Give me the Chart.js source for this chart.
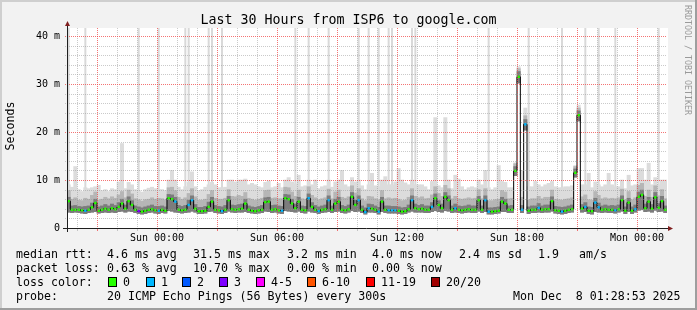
<!DOCTYPE html>
<html>
<head>
<meta charset="utf-8">
<title>Last 30 Hours from ISP6 to google.com</title>
<script src="https://cdn.jsdelivr.net/npm/chart.js@4/dist/chart.umd.min.js"></script>
<style>
  html, body { margin: 0; padding: 0; background: #f2f2f2; }
  canvas { display: block; }
</style>
</head>
<body>
<canvas id="pingGraph" width="697" height="310"></canvas>
<script>
// 10 minute bins, first bin starts Sat 19:30 (x axis is hours counted from Sat 00:00)
const startHour = 19.5;
const binHours = 1 / 6;

// median rtt per bin, in ms
const median = [
    5.6, 3.8, 3.8, 3.8, 3.7, 3.6, 3.8, 4.3, 5.2, 3.6, 3.8, 4.0, 3.8, 4.1, 3.9, 4.4, 5.1, 4.0, 5.6, 4.8,
    3.8, 3.5, 3.4, 3.6, 3.8, 3.9, 3.7, 3.6, 3.8, 3.6, 6.2, 6.0, 5.5, 3.8, 3.7, 3.8, 4.8, 5.8, 4.0, 3.5,
    3.5, 3.6, 4.4, 5.5, 3.8, 3.7, 3.5, 3.8, 5.8, 3.9, 3.8, 3.9, 4.0, 5.1, 3.8, 3.6, 3.5, 3.7, 3.8, 5.4,
    5.5, 3.8, 3.9, 3.7, 3.6, 6.2, 6.0, 5.1, 4.1, 5.5, 3.8, 3.7, 6.2, 4.4, 3.8, 3.5, 3.8, 3.9, 5.8, 3.8,
    5.1, 5.5, 3.8, 3.7, 3.9, 6.5, 4.8, 5.8, 3.8, 3.3, 4.1, 4.0, 3.8, 3.4, 5.5, 3.8, 3.7, 3.7, 3.7, 3.6,
    3.4, 3.5, 3.9, 5.8, 4.1, 3.9, 4.0, 3.8, 3.8, 4.4, 6.2, 4.8, 4.1, 6.5, 5.8, 3.8, 4.1, 3.8, 3.7, 3.8,
    3.9, 3.8, 3.8, 5.8, 3.8, 5.8, 3.4, 3.4, 3.5, 3.6, 5.5, 5.1, 3.8, 3.8, 11.9, 31.5, 3.8, 21.6, 3.6, 3.8,
    3.8, 4.2, 3.8, 3.9, 3.9, 5.6, 3.7, 3.6, 3.4, 3.6, 3.8, 3.9, 11.5, 23.5, 4.0, 4.4, 3.6, 3.5, 5.3, 4.3,
    3.8, 3.9, 3.8, 3.8, 3.7, 3.9, 5.8, 3.6, 5.3, 3.6, 3.9, 6.5, 6.9, 4.1, 5.5, 4.0, 6.4, 4.2, 5.6, 3.8
];

// lost pings (of 20) per bin
const loss = [
    0, 0, 0, 0, 0, 1, 0, 0, 0, 0, 0, 0, 0, 0, 0, 0, 0, 0, 0, 0,
    0, 3, 0, 0, 0, 0, 0, 1, 0, 0, 0, 0, 1, 0, 0, 0, 1, 1, 0, 0,
    0, 0, 0, 0, 0, 0, 1, 0, 0, 0, 0, 0, 0, 0, 0, 0, 0, 0, 0, 0,
    0, 0, 0, 0, 1, 0, 0, 0, 0, 0, 0, 0, 1, 0, 0, 1, 0, 0, 1, 0,
    0, 0, 0, 0, 0, 0, 0, 1, 0, 1, 1, 0, 0, 1, 0, 0, 1, 1, 1, 0,
    0, 0, 0, 1, 0, 0, 0, 0, 0, 1, 0, 0, 0, 0, 0, 0, 1, 0, 0, 0,
    0, 0, 0, 0, 0, 1, 1, 0, 0, 0, 0, 0, 0, 0, 0, 0, 1, 1, 0, 0,
    0, 1, 0, 0, 0, 0, 0, 0, 1, 0, 0, 0, 0, 0, 0, 1, 0, 0, 1, 1,
    0, 0, 0, 0, 1, 0, 0, 0, 0, 0, 1, 0, 0, 0, 0, 0, 0, 0, 0, 0
];

// smoke: fastest ping, 75th and 90th percentile, slowest ping in range
const pingMin = [
    3.3, 3.2, 3.3, 3.2, 3.1, 3.0, 3.2, 3.3, 3.4, 3.1, 3.2, 3.3, 3.2, 3.3, 3.2, 3.4, 3.5, 3.3, 3.5, 3.4,
    3.2, 3.0, 2.9, 3.0, 3.2, 3.3, 3.1, 3.0, 3.2, 3.1, 3.6, 3.5, 3.3, 3.2, 3.1, 3.2, 3.3, 3.5, 3.3, 3.0,
    3.0, 3.1, 3.4, 3.5, 3.2, 3.1, 3.0, 3.2, 3.5, 3.3, 3.2, 3.3, 3.3, 3.4, 3.2, 3.1, 3.0, 3.1, 3.2, 3.5,
    3.4, 3.2, 3.3, 3.1, 3.0, 3.6, 3.5, 3.4, 3.3, 3.5, 3.2, 3.1, 3.5, 3.3, 3.2, 3.0, 3.2, 3.3, 3.4, 3.2,
    3.4, 3.5, 3.2, 3.1, 3.3, 3.6, 3.4, 3.5, 3.2, 2.9, 3.3, 3.3, 3.2, 2.9, 3.4, 3.2, 3.1, 3.1, 3.1, 3.0,
    2.9, 3.0, 3.3, 3.5, 3.3, 3.3, 3.3, 3.2, 3.2, 3.4, 3.6, 3.4, 3.3, 3.6, 3.5, 3.2, 3.3, 3.2, 3.1, 3.2,
    3.3, 3.2, 3.2, 3.5, 3.2, 3.4, 2.9, 2.9, 3.0, 3.1, 3.4, 3.4, 3.2, 3.2, 10.9, 30.2, 3.2, 20.4, 3.0, 3.2,
    3.2, 3.3, 3.2, 3.3, 3.3, 3.5, 3.1, 3.0, 2.9, 3.0, 3.2, 3.3, 10.6, 22.3, 3.3, 3.4, 3.0, 2.9, 3.4, 3.3,
    3.2, 3.3, 3.2, 3.2, 3.1, 3.3, 3.5, 3.0, 3.4, 3.0, 3.3, 3.7, 3.8, 3.4, 3.5, 3.3, 3.7, 3.4, 3.5, 3.2
];
const pingQ3 = [
    6.4, 4.6, 4.7, 4.5, 4.4, 4.5, 4.6, 5.2, 6.0, 4.4, 4.6, 4.9, 4.6, 5.0, 4.7, 5.3, 6.0, 4.8, 6.5, 5.7,
    4.6, 4.4, 4.2, 4.4, 4.6, 4.8, 4.5, 4.5, 4.6, 4.4, 7.0, 6.9, 6.4, 4.7, 4.5, 4.7, 5.8, 6.7, 4.9, 4.3,
    4.3, 4.5, 5.4, 6.4, 4.7, 4.5, 4.4, 4.7, 6.6, 4.8, 4.7, 4.9, 5.0, 6.0, 4.6, 4.4, 4.3, 4.5, 4.7, 6.3,
    6.4, 4.7, 4.8, 4.6, 4.5, 7.0, 6.9, 6.0, 5.0, 6.4, 4.6, 4.5, 7.1, 5.3, 4.7, 4.4, 4.6, 4.8, 6.7, 4.6,
    6.0, 6.4, 4.7, 4.5, 4.8, 7.4, 5.8, 6.7, 4.6, 4.2, 5.0, 4.9, 4.6, 4.3, 6.4, 4.6, 4.6, 4.5, 4.5, 4.4,
    4.2, 4.3, 4.8, 6.7, 5.0, 4.7, 4.9, 4.6, 4.6, 5.3, 7.1, 5.7, 5.0, 7.4, 6.7, 4.6, 5.0, 4.6, 4.5, 4.6,
    4.8, 4.6, 4.6, 6.6, 4.6, 6.7, 4.2, 4.2, 4.3, 4.4, 6.4, 6.0, 4.6, 4.7, 12.8, 32.6, 4.7, 22.6, 4.4, 4.6,
    4.6, 5.1, 4.6, 4.8, 4.8, 6.5, 4.5, 4.4, 4.3, 4.4, 4.6, 4.8, 12.3, 24.4, 4.9, 5.3, 4.4, 4.3, 6.2, 5.2,
    4.6, 4.8, 4.6, 4.7, 4.6, 4.8, 6.7, 4.4, 6.2, 4.4, 4.8, 7.5, 7.9, 5.0, 6.4, 4.9, 7.4, 5.1, 6.6, 4.6
];
const pingP90 = [
    7.8, 6.0, 6.3, 5.8, 5.7, 6.2, 6.0, 6.8, 7.5, 5.8, 6.0, 6.4, 6.1, 6.5, 6.2, 6.9, 7.6, 6.3, 7.9, 7.1,
    6.1, 5.9, 5.6, 5.9, 6.0, 6.3, 6.0, 6.2, 6.1, 5.9, 8.4, 8.5, 7.8, 6.4, 6.0, 6.3, 7.2, 8.2, 6.5, 5.8,
    5.8, 6.0, 7.0, 7.8, 6.2, 6.0, 6.0, 6.2, 8.0, 6.6, 6.5, 6.8, 6.6, 7.4, 6.2, 6.0, 5.8, 6.0, 6.2, 7.8,
    7.9, 6.2, 6.3, 6.1, 6.1, 8.5, 8.4, 7.5, 6.6, 7.9, 6.1, 6.0, 8.6, 6.8, 6.3, 5.9, 6.1, 6.3, 8.1, 6.1,
    7.5, 7.9, 6.4, 6.2, 6.5, 8.8, 7.3, 8.2, 6.1, 5.7, 6.6, 6.5, 6.1, 5.9, 7.8, 6.1, 6.3, 6.1, 6.2, 6.0,
    5.7, 5.8, 6.4, 8.2, 6.6, 6.3, 6.5, 6.1, 6.2, 6.9, 8.6, 7.2, 6.6, 8.9, 8.2, 6.1, 6.6, 6.1, 6.0, 6.1,
    6.3, 6.1, 6.2, 8.0, 6.1, 8.2, 5.7, 5.7, 5.9, 6.0, 7.8, 7.5, 6.1, 6.2, 13.4, 33.2, 6.4, 23.4, 5.9, 6.1,
    6.1, 6.6, 6.1, 6.4, 6.4, 7.9, 6.0, 5.9, 5.8, 6.0, 6.1, 6.3, 12.8, 25.0, 6.5, 6.9, 5.9, 5.8, 7.6, 6.8,
    6.1, 6.3, 6.1, 6.2, 6.1, 6.3, 8.1, 5.9, 7.6, 5.9, 6.3, 8.9, 9.3, 6.6, 7.9, 6.4, 8.8, 6.7, 8.0, 6.1
];
const pingMax = [
    9.0, 8.5, 12.8, 8.0, 7.6, 8.4, 8.2, 8.4, 8.6, 8.9, 7.8, 8.0, 7.6, 8.2, 8.0, 9.6, 17.6, 8.2, 9.5, 9.0,
    8.0, 7.8, 7.5, 8.0, 8.3, 8.5, 8.2, 8.0, 8.0, 7.8, 10.0, 12.0, 10.0, 8.5, 8.0, 8.6, 9.5, 11.7, 8.6, 7.8,
    8.0, 8.5, 9.0, 9.5, 9.0, 8.4, 8.4, 8.5, 10.0, 10.0, 9.6, 10.0, 10.0, 10.2, 9.0, 9.3, 9.0, 8.6, 8.4, 9.5,
    9.8, 8.4, 8.6, 9.3, 8.4, 10.0, 10.5, 9.6, 9.2, 11.0, 8.6, 8.8, 10.0, 9.0, 10.0, 8.2, 8.6, 8.8, 10.0, 8.5,
    9.6, 10.0, 12.0, 9.0, 8.6, 10.5, 9.6, 10.0, 8.8, 8.0, 9.0, 11.4, 8.8, 8.6, 10.0, 10.7, 9.0, 9.0, 9.6, 12.4,
    10.0, 9.4, 9.0, 10.0, 9.0, 9.0, 9.0, 8.6, 8.0, 9.7, 23.0, 8.8, 8.4, 23.0, 10.0, 8.2, 11.0, 10.2, 8.6, 8.0,
    8.4, 8.6, 8.4, 10.0, 9.0, 12.0, 8.4, 8.0, 8.4, 13.0, 9.7, 9.5, 8.4, 8.4, 13.6, 33.6, 12.0, 25.0, 8.6, 8.6,
    9.7, 9.0, 8.6, 9.0, 9.3, 9.7, 8.6, 8.4, 8.4, 8.6, 8.6, 8.8, 13.0, 25.6, 9.0, 9.0, 11.4, 8.4, 9.6, 9.0,
    8.6, 9.0, 11.4, 9.0, 8.6, 8.6, 10.0, 8.2, 11.0, 8.8, 9.0, 12.4, 12.4, 10.0, 13.5, 9.0, 10.5, 9.0, 10.0, 10.0
];
// bins where a ping went off the top of the graph
const offTop = [0, 5, 21, 27, 35, 36, 42, 43, 46, 68, 72, 78, 87, 90, 93, 96, 97, 103, 104, 126, 138, 148, 155, 159, 164, 177];

const xTickHours = [24, 30, 36, 42, 48];
const xTickLabels = ['Sun 00:00', 'Sun 06:00', 'Sun 12:00', 'Sun 18:00', 'Mon 00:00'];
const yTickValues = [0, 10, 20, 30, 40];
const yTickLabels = ['0', '10 m', '20 m', '30 m', '40 m'];

const lossLimits = [0, 1, 2, 3, 5, 10, 19, 20];
const lossLabels = ['0', '1', '2', '3', '4-5', '6-10', '11-19', '20/20'];
const lossColors = ['#26ff00', '#00b8ff', '#0059ff', '#7e00ff', '#ff00ff', '#ff5500', '#ff0000', '#a10000'];

const rttStats = ['4.6 ms avg', '31.5 ms max', '3.2 ms min', '4.0 ms now', '2.4 ms sd', '1.9', 'am/s'];
const lossStats = ['0.63 % avg', '10.70 % max', '0.00 % min', '0.00 % now'];
const probeText = '20 ICMP Echo Pings (56 Bytes) every 300s';
const stampText = 'Mon Dec  8 01:28:53 2025';

const MONO = '"DejaVu Sans Mono", monospace';
const gridMinor = 'rgba(150, 150, 150, 0.5)';
const gridMajor = 'rgba(240, 70, 70, 0.75)';

function binX(i) {
    return startHour + (i + 0.5) * binHours;
}

function lossColor(n) {
    for (let k = 0; k < lossLimits.length; k++) {
        if (n <= lossLimits[k]) return lossColors[k];
    }
    return lossColors[lossColors.length - 1];
}

function band(lo, hi) {
    return lo.map((v, i) => ({ x: binX(i), y: [v, hi[i]] }));
}

// background, frame shading and white canvas
const framePlugin = {
    id: 'frame',
    beforeDraw(chart) {
        const ctx = chart.ctx;
        const a = chart.chartArea;
        ctx.save();
        ctx.fillStyle = '#f2f2f2';
        ctx.fillRect(0, 0, 697, 310);
        ctx.fillStyle = '#cfcfcf';
        ctx.fillRect(0, 0, 697, 2);
        ctx.fillRect(0, 0, 2, 310);
        ctx.fillStyle = '#9e9e9e';
        ctx.fillRect(0, 308, 697, 2);
        ctx.fillRect(695, 0, 2, 310);
        ctx.fillStyle = '#ffffff';
        ctx.fillRect(a.left, a.top, a.right - a.left + 1, a.bottom - a.top);
        ctx.restore();
    }
};

// dotted rrdtool style grid, drawn over the smoke
const gridPlugin = {
    id: 'dotgrid',
    afterDatasetsDraw(chart) {
        const ctx = chart.ctx;
        const a = chart.chartArea;
        const xs = chart.scales.x;
        const ys = chart.scales.y;
        ctx.save();
        ctx.lineWidth = 1;
        for (let h = 20; h <= 49; h++) {
            const px = Math.round(xs.getPixelForValue(h)) + 0.5;
            ctx.strokeStyle = h % 3 === 0 ? gridMajor : gridMinor;
            ctx.setLineDash([1, 1]);
            ctx.beginPath();
            ctx.moveTo(px, a.top);
            ctx.lineTo(px, a.bottom);
            ctx.stroke();
            ctx.setLineDash([]);
            ctx.beginPath();
            ctx.moveTo(px, a.bottom + 1);
            ctx.lineTo(px, a.bottom + 3);
            ctx.stroke();
        }
        for (let v = 2; v <= 40; v += 2) {
            const py = Math.round(ys.getPixelForValue(v)) + 0.5;
            ctx.strokeStyle = v % 10 === 0 ? gridMajor : gridMinor;
            ctx.setLineDash([1, 1]);
            ctx.beginPath();
            ctx.moveTo(a.left - 2, py);
            ctx.lineTo(a.right, py);
            ctx.stroke();
        }
        ctx.restore();
    }
};

// axes with arrows, title and the legend block under the graph
const textPlugin = {
    id: 'texts',
    afterDraw(chart) {
        const ctx = chart.ctx;
        const a = chart.chartArea;
        ctx.save();

        ctx.strokeStyle = '#1f1f1f';
        ctx.lineWidth = 1;
        ctx.beginPath();
        ctx.moveTo(a.left - 4, a.bottom + 0.5);
        ctx.lineTo(a.right + 3, a.bottom + 0.5);
        ctx.moveTo(a.left + 0.5, a.bottom + 4);
        ctx.lineTo(a.left + 0.5, a.top - 3);
        ctx.stroke();

        ctx.fillStyle = '#801f1f';
        ctx.beginPath();
        ctx.moveTo(a.left - 2, a.top - 2);
        ctx.lineTo(a.left + 3, a.top - 2);
        ctx.lineTo(a.left + 0.5, a.top - 7);
        ctx.closePath();
        ctx.fill();
        ctx.beginPath();
        ctx.moveTo(a.right + 1, a.bottom - 2);
        ctx.lineTo(a.right + 1, a.bottom + 3);
        ctx.lineTo(a.right + 6, a.bottom + 0.5);
        ctx.closePath();
        ctx.fill();

        ctx.fillStyle = '#000';
        ctx.textBaseline = 'alphabetic';
        ctx.textAlign = 'center';
        ctx.font = '13.3px ' + MONO;
        ctx.fillText('Last 30 Hours from ISP6 to google.com', 348.5, 24);

        ctx.font = '11.6px ' + MONO;
        ctx.save();
        ctx.translate(11, 126);
        ctx.rotate(-Math.PI / 2);
        ctx.textBaseline = 'middle';
        ctx.fillText('Seconds', 0, 0);
        ctx.restore();

        ctx.textAlign = 'left';
        const statX = [107, 193, 287, 372, 459, 538, 579];
        ctx.fillText('median rtt:', 16, 258);
        rttStats.forEach((t, i) => ctx.fillText(t, statX[i], 258));
        ctx.fillText('packet loss:', 16, 272);
        lossStats.forEach((t, i) => ctx.fillText(t, statX[i], 272));
        ctx.fillText('loss color:', 16, 286);
        const boxX = [108, 146, 182, 219, 256, 307, 366, 431];
        lossLabels.forEach((t, i) => {
            ctx.fillStyle = lossColors[i];
            ctx.fillRect(boxX[i] + 0.5, 277.5, 8, 9);
            ctx.strokeStyle = '#000';
            ctx.strokeRect(boxX[i] + 0.5, 277.5, 8, 9);
            ctx.fillStyle = '#000';
            ctx.fillText(t, boxX[i] + 15, 286);
        });
        ctx.fillText('probe:', 16, 300);
        ctx.fillText(probeText, 107, 300);
        ctx.fillText(stampText, 513, 300);

        ctx.fillStyle = '#9a9a9a';
        ctx.font = '8.3px ' + MONO;
        ctx.translate(687, 5);
        ctx.rotate(Math.PI / 2);
        ctx.textBaseline = 'middle';
        ctx.fillText('RRDTOOL / TOBI OETIKER', 0, 0);
        ctx.restore();
    }
};

const barCommon = {
    type: 'bar',
    grouped: false,
    barPercentage: 1,
    categoryPercentage: 1,
    borderWidth: 0,
    clip: 0
};

const datasets = [
    {
        type: 'line',
        label: 'median rtt',
        data: median.map((v, i) => ({ x: binX(i), y: v })),
        borderColor: '#000000',
        borderWidth: 1,
        stepped: 'middle',
        pointStyle: 'rect',
        pointRadius: 1.7,
        pointBorderWidth: 0,
        pointBackgroundColor: (c) => lossColor(loss[c.dataIndex]),
        clip: 0,
        order: 0
    },
    Object.assign({ label: 'q3', data: band(pingMin, pingQ3), backgroundColor: '#7c7c7c', order: 1 }, barCommon),
    Object.assign({ label: 'p90', data: band(pingMin, pingP90), backgroundColor: '#b6b6b6', order: 2 }, barCommon),
    Object.assign({ label: 'max', data: band(pingMin, pingMax), backgroundColor: '#dcdcdc', order: 3 }, barCommon),
    Object.assign({}, barCommon, {
        label: 'off scale',
        data: offTop.map((i) => ({ x: binX(i), y: [pingMin[i], 50] })),
        backgroundColor: '#d9d9d9',
        barPercentage: 0.6,
        order: 4
    })
];

const options = {
    responsive: false,
    animation: false,
    layout: { padding: { top: 28, right: 30, bottom: 62, left: 0 } },
    plugins: {
        legend: { display: false },
        title: { display: false },
        tooltip: { enabled: false }
    },
    scales: {
        x: {
            type: 'linear',
            min: startHour,
            max: startHour + 30,
            offset: false,
            afterFit: (scale) => { scale.height = 20; },
            afterBuildTicks: (scale) => {
                scale.ticks = xTickHours.map((h) => ({ value: h }));
            },
            grid: { display: false, drawTicks: false, offset: false },
            border: { display: false },
            ticks: {
                autoSkip: false,
                maxRotation: 0,
                padding: 4,
                color: '#000',
                font: { family: MONO, size: 10 },
                callback: (value) => {
                    const k = xTickHours.indexOf(value);
                    return k >= 0 ? xTickLabels[k] : '';
                }
            }
        },
        y: {
            min: 0,
            max: 200 / 4.8,
            afterFit: (scale) => { scale.width = 67; },
            afterBuildTicks: (scale) => {
                scale.ticks = yTickValues.map((v) => ({ value: v }));
            },
            grid: { display: false, drawTicks: false },
            border: { display: false },
            ticks: {
                autoSkip: false,
                padding: 7,
                color: '#000',
                font: { family: MONO, size: 10 },
                callback: (value) => {
                    const k = yTickValues.indexOf(value);
                    return k >= 0 ? yTickLabels[k] : '';
                }
            }
        }
    }
};

const ctx = document.getElementById('pingGraph').getContext('2d');
const pingChart = new Chart(ctx, {
    type: 'bar',
    data: { datasets: datasets },
    options: options,
    plugins: [framePlugin, gridPlugin, textPlugin]
});
</script>
</body>
</html>
